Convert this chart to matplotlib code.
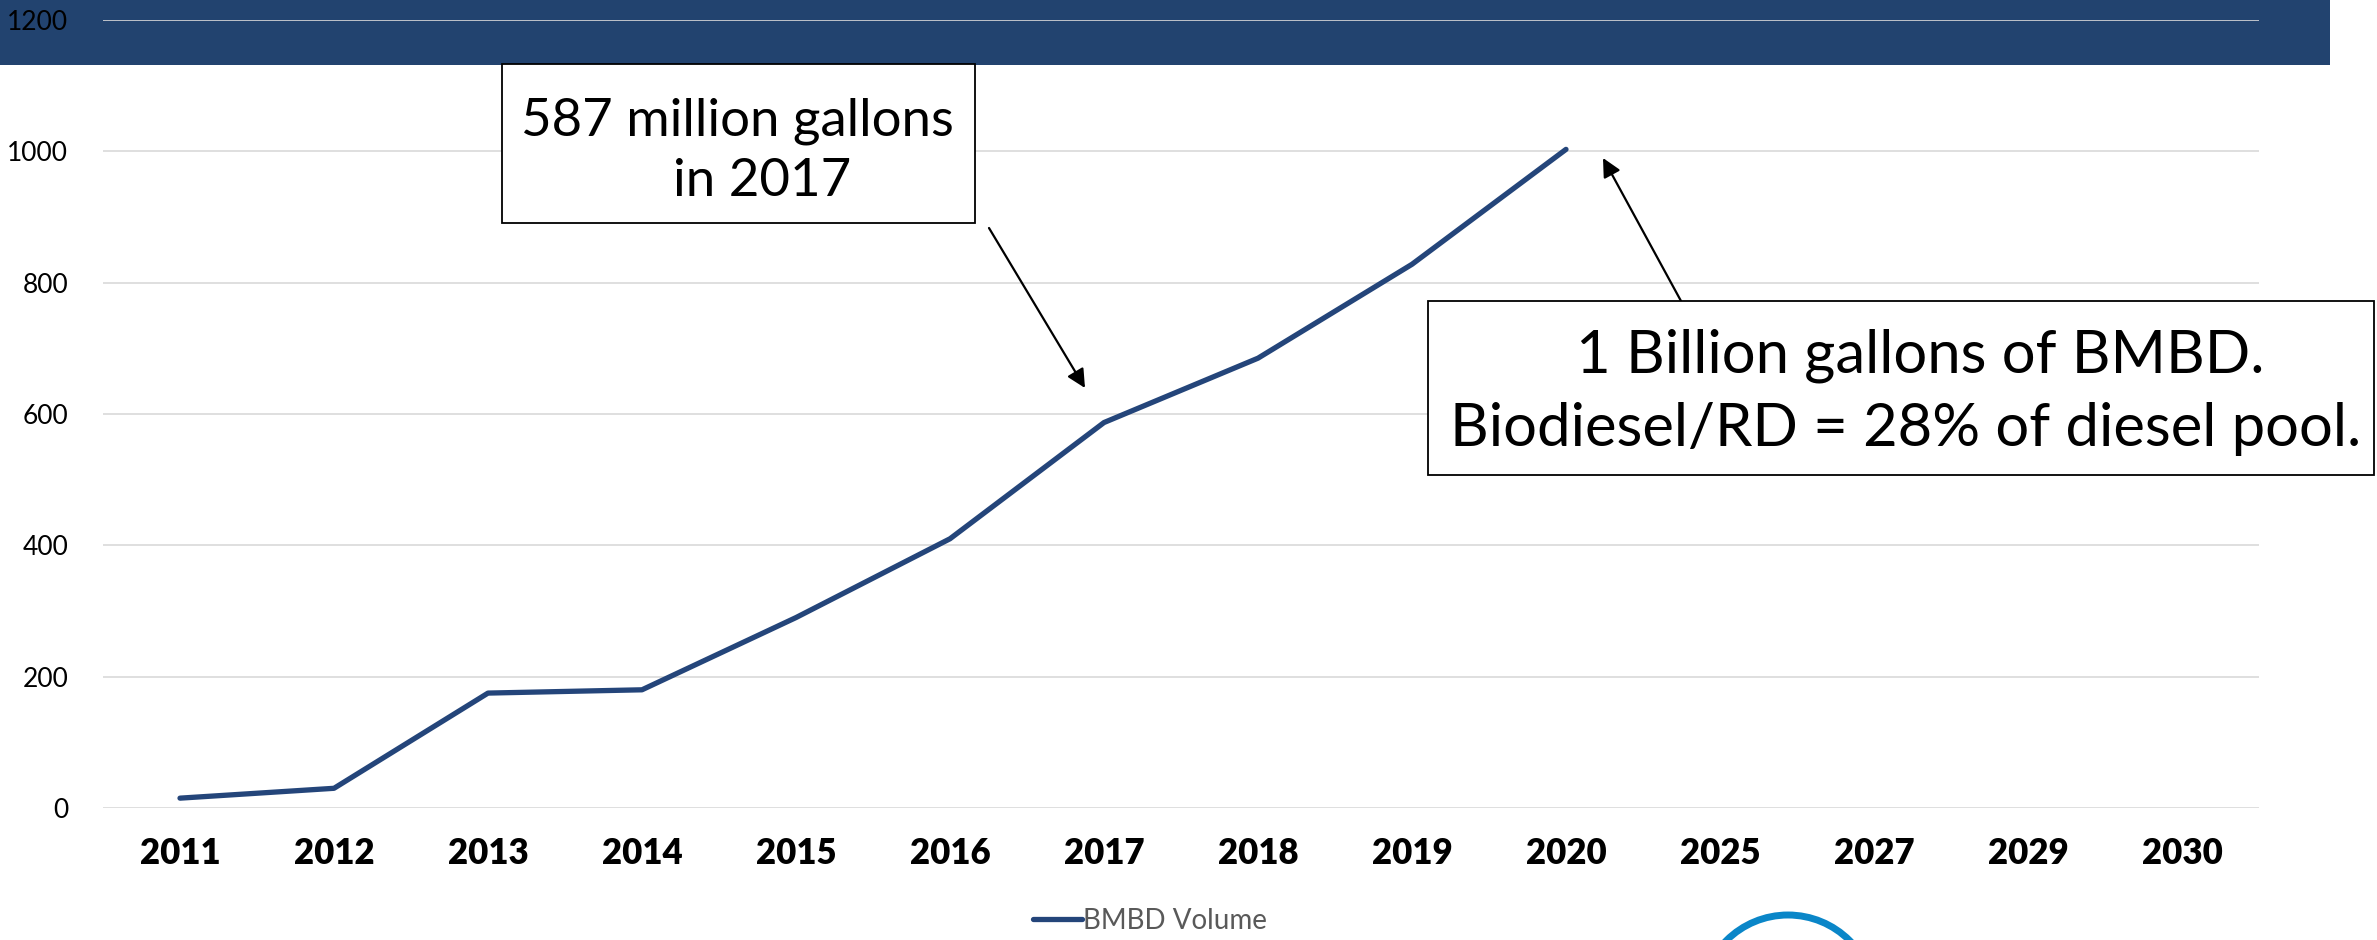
import matplotlib
matplotlib.use('Agg')
import matplotlib.pyplot as plt
from matplotlib.patches import Rectangle, Ellipse

# data (million gallons)
years = ['2011', '2012', '2013', '2014', '2015', '2016', '2017',
         '2018', '2019', '2020', '2025', '2027', '2029', '2030']
bmbd_years = years[:10]
bmbd_volume = [15, 30, 175, 180, 290, 410, 587, 685, 828, 1003]
y_ticks = [0, 200, 400, 600, 800, 1000, 1200]

W, H = 2377, 940
navy = '#22436f'
line_col = '#24457a'

plt.rcParams['font.family'] = ['Lato', 'DejaVu Sans']


def fx(x):
    return x / W


def fy(y):
    return 1 - y / H


fig = plt.figure(figsize=(W / 100, H / 100), dpi=100)

# banner across the top
fig.add_artist(Rectangle((0, fy(65)), fx(2330), 65 / H, transform=fig.transFigure,
                         facecolor=navy, edgecolor='none', zorder=0))

ax = fig.add_axes([fx(103), fy(808), fx(2259) - fx(103), (808 - 20) / H])
ax.set_facecolor('none')
ax.set_zorder(1)

x_idx = [years.index(y) for y in bmbd_years]
ax.plot(x_idx, bmbd_volume, color=line_col, lw=3.8, solid_capstyle='round',
        label='BMBD Volume', zorder=3)

ax.set_xlim(-0.5, len(years) - 0.5)
ax.set_ylim(0, 1200)
ax.set_yticks(y_ticks)
ax.set_yticklabels([str(v) for v in y_ticks], fontsize=19)
ax.set_xticks(range(len(years)))
ax.set_xticklabels(years, fontsize=25, fontweight='heavy')
ax.tick_params(axis='both', length=0)
ax.tick_params(axis='y', pad=25)
ax.tick_params(axis='x', pad=21)
ax.grid(axis='y', color='#d9d9d9', lw=1.2)
ax.set_axisbelow(True)
for s in ax.spines.values():
    s.set_visible(False)

# annotation boxes
fig.add_artist(Rectangle((fx(502), fy(223)), fx(975) - fx(502), (223 - 64) / H,
                         transform=fig.transFigure, facecolor='white',
                         edgecolor='black', lw=1.3, zorder=4))
fig.text(fx(737), fy(121), '587 million gallons', ha='center', va='center',
         fontsize=38, zorder=5)
fig.text(fx(762), fy(182), 'in 2017', ha='center', va='center',
         fontsize=38, zorder=5)

fig.add_artist(Rectangle((fx(1428), fy(475)), fx(2374) - fx(1428), (475 - 301) / H,
                         transform=fig.transFigure, facecolor='white',
                         edgecolor='black', lw=1.3, zorder=4))
fig.text(fx(1920), fy(356), '1 Billion gallons of BMBD.', ha='center', va='center',
         fontsize=43, zorder=5)
fig.text(fx(1906), fy(429), 'Biodiesel/RD = 28% of diesel pool.', ha='center',
         va='center', fontsize=43, zorder=5)

# arrows
arrow = dict(arrowstyle='-|>', color='black', lw=1.6, mutation_scale=28,
             shrinkA=0, shrinkB=0)
ax.annotate('', xy=(fx(1085), fy(388)), xytext=(fx(989), fy(228)),
            xycoords='figure fraction', textcoords='figure fraction',
            arrowprops=arrow, zorder=5)
ax.annotate('', xy=(fx(1603), fy(158)), xytext=(fx(1681), fy(301)),
            xycoords='figure fraction', textcoords='figure fraction',
            arrowprops=arrow, zorder=5)

# legend
leg = fig.legend(loc='center', bbox_to_anchor=(fx(1150), fy(921)), frameon=False,
                 fontsize=20, handlelength=1.75, handletextpad=0.05)
for t in leg.get_texts():
    t.set_color('#595959')

# partial logo ring at the bottom edge
fig.add_artist(Ellipse((fx(1788), fy(1002)), 2 * 87 / W, 2 * 87 / H,
                       transform=fig.transFigure, fill=False,
                       edgecolor='#0a86c8', lw=5))

fig.savefig('out.png', dpi=100)
